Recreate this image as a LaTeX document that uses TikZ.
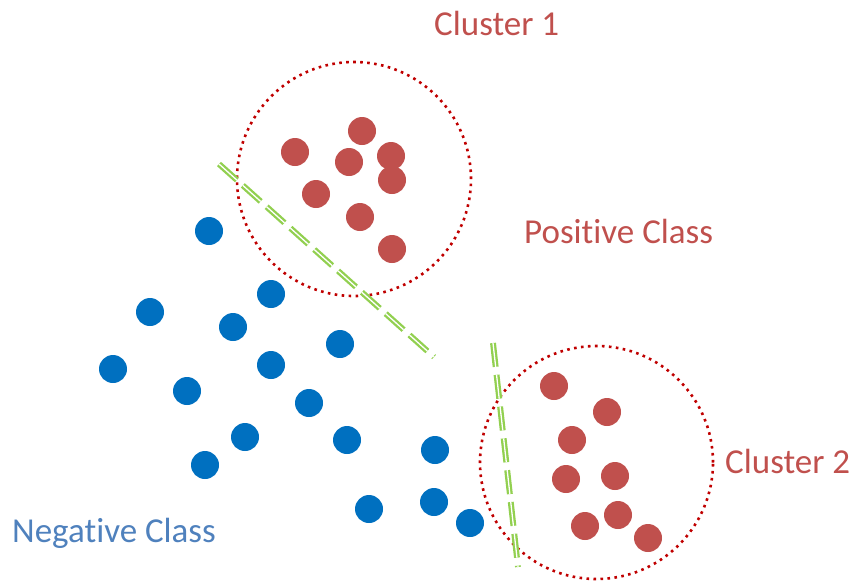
\documentclass[tikz,border=0pt]{standalone}
\usepackage{fontspec}
\setmainfont[RawFeature=-liga]{Carlito}
\definecolor{posred}{HTML}{C0504D}
\definecolor{negblue}{HTML}{0070C0}
\definecolor{ringred}{HTML}{C00000}
\definecolor{sepgreen}{HTML}{92D050}
\definecolor{labblue}{HTML}{4F81BD}
\begin{document}
\begin{tikzpicture}[x=1pt,y=-1pt,
  posdot/.style={circle,fill=posred,inner sep=0pt,minimum size=28pt},
  negdot/.style={circle,fill=negblue,inner sep=0pt,minimum size=28pt},
  ring/.style={draw=ringred,line width=2.6pt,dash pattern=on 2.6pt off 4.4pt},
  sepline/.style={draw=sepgreen,double=white,line width=2.3pt,double distance=1.3pt,dash pattern=on 24pt off 8pt},
  lab/.style={font=\fontsize{35}{40}\selectfont,inner sep=0pt,anchor=base west}]
\useasboundingbox (0,0) rectangle (853,582);
% clusters
\node[circle,ring,minimum size=234pt,inner sep=0pt] (c1) at (354,179) {};
\node[circle,ring,minimum size=233pt,inner sep=0pt] (c2) at (596.5,462.5) {};
% positive class, cluster 1
\node[posdot] (p1) at (362,131) {};
\node[posdot] (p2) at (295,152) {};
\node[posdot] (p3) at (349,162) {};
\node[posdot] (p4) at (391,156) {};
\node[posdot] (p5) at (392,180) {};
\node[posdot] (p6) at (316,194) {};
\node[posdot] (p7) at (360,217) {};
\node[posdot] (p8) at (392,249) {};
% positive class, cluster 2
\node[posdot] (q1) at (554,386) {};
\node[posdot] (q2) at (607,412) {};
\node[posdot] (q3) at (572,440) {};
\node[posdot] (q4) at (566,479) {};
\node[posdot] (q5) at (615,476) {};
\node[posdot] (q6) at (618,515) {};
\node[posdot] (q7) at (585,526) {};
\node[posdot] (q8) at (648,538) {};
% negative class
\node[negdot] (n1) at (209,231) {};
\node[negdot] (n2) at (271,294) {};
\node[negdot] (n3) at (150,312) {};
\node[negdot] (n4) at (233,327) {};
\node[negdot] (n5) at (340,344) {};
\node[negdot] (n6) at (113,369) {};
\node[negdot] (n7) at (271,365) {};
\node[negdot] (n8) at (187,391) {};
\node[negdot] (n9) at (309,403) {};
\node[negdot] (n10) at (245,437) {};
\node[negdot] (n11) at (347,440) {};
\node[negdot] (n12) at (435,450) {};
\node[negdot] (n13) at (205,465) {};
\node[negdot] (n14) at (369,509) {};
\node[negdot] (n15) at (434,502) {};
\node[negdot] (n16) at (470,523) {};
% separators
\coordinate (s1a) at (219,164);
\coordinate (s1b) at (434,357);
\coordinate (s2a) at (493,343);
\coordinate (s2b) at (518,567);
\draw[sepline] (s1a) -- (s1b);
\draw[sepline] (s2a) -- (s2b);
% labels
\node[lab,text=posred] (l1) at (434,35) {Cluster 1};
\node[lab,text=posred] (l2) at (524,243) {Positive Class};
\node[lab,text=posred] (l3) at (725,473) {Cluster 2};
\node[lab,text=labblue] (l4) at (12,542) {Negative Class};
\end{tikzpicture}
\end{document}
